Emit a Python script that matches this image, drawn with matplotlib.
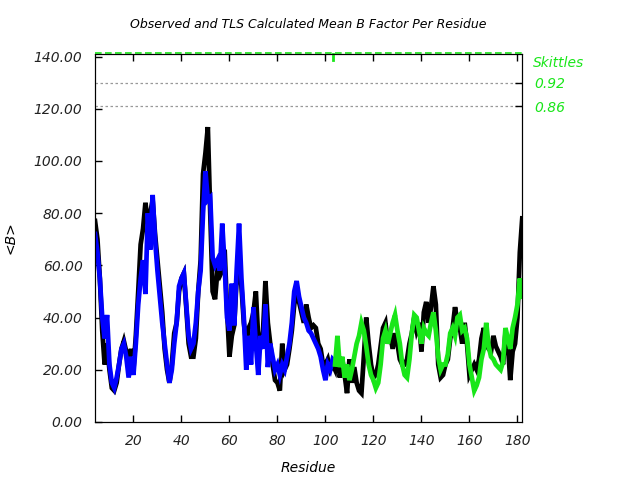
import matplotlib
matplotlib.use("Agg")
import matplotlib.pyplot as plt
import matplotlib.transforms as mtransforms
import numpy as np

title = "Observed and TLS Calculated Mean B Factor Per Residue"
xlabel = "Residue"
ylabel = "<B>"

obs_start = 4
observed = [77, 70, 55, 35, 22, 30, 20, 13, 12, 15, 22, 28, 31, 27, 22, 28, 20, 33, 50, 68,
            74, 84, 76, 80, 85, 72, 62, 52, 42, 28, 20, 15, 22, 34, 38, 50, 55, 57, 44, 30,
            25, 25, 32, 50, 62, 95, 103, 113, 80, 50, 47, 58, 56, 58, 66, 43, 25, 33, 37, 55,
            58, 52, 38, 30, 36, 38, 42, 50, 32, 28, 35, 54, 38, 30, 22, 16, 15, 12, 30, 20,
            22, 28, 35, 45, 50, 46, 42, 38, 45, 40, 36, 37, 36, 30, 28, 22, 22, 24, 20, 22,
            20, 28, 17, 24, 18, 11, 24, 15, 21, 15, 12, 11, 25, 40, 30, 22, 17, 18, 22, 29,
            36, 38, 30, 34, 28, 34, 30, 24, 22, 22, 24, 30, 34, 40, 35, 38, 27, 42, 46, 38,
            44, 52, 45, 22, 17, 18, 22, 24, 32, 36, 44, 38, 36, 30, 38, 30, 18, 20, 22, 20,
            24, 32, 36, 30, 28, 27, 33, 29, 27, 25, 22, 34, 30, 16, 27, 30, 40, 65, 78]

seg1_start = 4
seg1_tls = [72, 65, 55, 40, 32, 41, 22, 15, 13, 17, 22, 28, 30, 25, 17, 25, 18, 30, 45, 55,
            62, 49, 80, 66, 87, 70, 58, 48, 38, 30, 22, 15, 20, 30, 38, 52, 55, 57, 45, 33,
            28, 30, 38, 50, 58, 80, 96, 85, 86, 63, 60, 62, 58, 76, 60, 40, 35, 53, 37, 58,
            76, 55, 40, 20, 33, 22, 44, 30, 18, 33, 28, 45, 21, 30, 25, 20, 22, 18, 22, 20,
            25, 30, 38, 50, 54, 48, 44, 40, 38, 35, 34, 32, 30, 28, 25, 20, 16, 22, 20, 24,
            23]

seg2_start = 104
seg2_tls = [22, 33, 21, 25, 17, 22, 16, 20, 25, 30, 33, 38, 35, 29, 22, 18, 16, 13, 15, 22,
            32, 35, 30, 34, 38, 41, 35, 30, 22, 18, 17, 24, 34, 41, 40, 35, 30, 36, 34, 33,
            38, 42, 35, 25, 20, 22, 22, 26, 34, 36, 33, 40, 41, 35, 36, 32, 22, 17, 12, 14,
            17, 24, 28, 38, 29, 25, 24, 22, 21, 20, 23, 36, 32, 28, 36, 40, 45, 55, 48]

skittles_values = [130, 121]
skittles_labels = ["0.92", "0.86"]
segment_boundary = 103.3

yticks = [0, 20, 40, 60, 80, 100, 120, 140]
xticks = [20, 40, 60, 80, 100, 120, 140, 160, 180]

green = "#19e619"

plt.rcParams['font.family'] = ['DejaVu Sans']
fig = plt.figure(figsize=(6.4, 4.8), dpi=100)
ax = fig.add_axes([0.1485, 0.121, 0.6675, 0.7665])

x_obs = np.arange(obs_start, obs_start + len(observed))
x1 = np.arange(seg1_start, seg1_start + len(seg1_tls))
x2 = np.arange(seg2_start, seg2_start + len(seg2_tls))

ax.plot(x_obs, observed, color="black", lw=3.4, solid_joinstyle="miter")
ax.plot(x1, seg1_tls, color="#0000ff", lw=3.4, solid_joinstyle="miter")
ax.plot(x2, seg2_tls, color=green, lw=3.4, solid_joinstyle="miter")

for v in skittles_values:
    ax.axhline(v, color="#999999", lw=0.9, ls=(0, (2, 2)))

ax.set_xlim(4, 182)
ax.set_ylim(0, 141)
ax.set_xticks(xticks)
ax.set_yticks(yticks)
ax.set_yticklabels([f"{v:.2f}" for v in yticks])
ax.tick_params(direction="in", length=5, width=1, top=True, right=True, pad=9,
               labelsize=10)
for lab in ax.get_xticklabels() + ax.get_yticklabels():
    lab.set_fontstyle("italic")
    lab.set_color("#222222")

# green dashed segment bar along the top
ax.axhline(141.4, color=green, lw=1.2, ls=(0, (4, 2)), clip_on=False, zorder=5)
trans = mtransforms.blended_transform_factory(ax.transData, ax.transAxes)
ax.plot([segment_boundary, segment_boundary], [1.0, 0.985], color=green, lw=2,
        transform=trans, clip_on=False, zorder=6)

ax2 = ax.twinx()
ax2.set_ylim(ax.get_ylim())
ax2.set_yticks(skittles_values)
ax2.set_yticklabels(skittles_labels)
ax2.tick_params(direction="in", length=5, width=1, pad=9, labelsize=10, labelcolor=green)
for lab in ax2.get_yticklabels():
    lab.set_fontstyle("italic")
ax2.text(1.025, 0.975, "Skittles", transform=ax.transAxes, color=green,
         fontsize=10, fontstyle="italic", va="center", ha="left")

ax.set_title(title, fontsize=9, fontstyle="italic", pad=19)
ax.set_xlabel(xlabel, fontsize=10, fontstyle="italic", labelpad=9)
ax.set_ylabel(ylabel, fontsize=10, fontstyle="italic", labelpad=12)

fig.savefig("out.png", dpi=100)
